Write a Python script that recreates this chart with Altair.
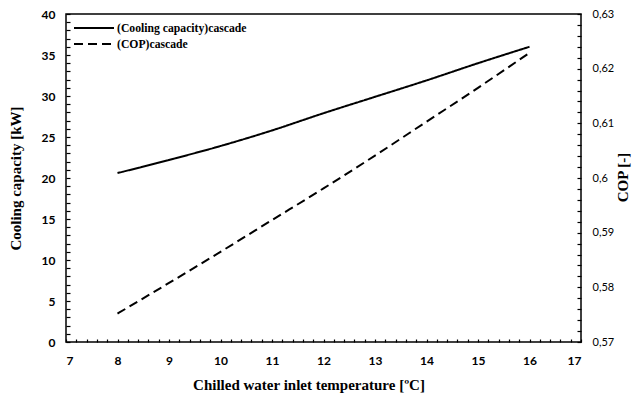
import altair as alt
import pandas as pd

# ---- data ----
temp = [8, 9, 10, 11, 12, 13, 14, 15, 16]
cooling_capacity = [20.6, 22.2, 23.9, 25.8, 27.9, 29.9, 31.9, 34.0, 36.0]
cop = [0.5752, 0.5808, 0.5865, 0.5923, 0.5981, 0.6041, 0.6103, 0.6165, 0.6229]
series_names = ["(Cooling capacity)cascade", "(COP)cascade"]

# ---- tick positions (major + minor) ----
x_ticks = [round(7 + 0.2 * i, 1) for i in range(51)]
y_left_ticks = list(range(0, 41))
y_right_ticks = [round(0.57 + 0.002 * i, 3) for i in range(31)]

df = pd.DataFrame({"temp": temp, "cap": cooling_capacity, "cop": cop})
base = alt.Chart(df)

x_scale = alt.Scale(domain=[7, 17], nice=False, zero=False)
yl_scale = alt.Scale(domain=[0, 40], nice=False)
yr_scale = alt.Scale(domain=[0.57, 0.63], nice=False, zero=False)
dash_scale = alt.Scale(domain=series_names, range=[[1, 0], [9, 5]])

LABEL_FONT = "Lato"
TITLE_FONT = "Liberation Serif"

legend = alt.Legend(
    title=None, orient="none", legendX=7, legendY=6, padding=0,
    symbolType="stroke", symbolSize=1600, symbolStrokeWidth=2,
    symbolStrokeColor="black", labelFont=TITLE_FONT, labelFontWeight="bold",
    labelFontSize=11.7, labelColor="black", labelOffset=2, rowPadding=0,
    clipHeight=16,
)

def tick_style(size):
    return dict(offset=-size, tickSize=size, tickColor="black", tickWidth=1.2,
                domain=False, grid=False, labelOverlap=False)

x_enc = alt.X("temp:Q", scale=x_scale, axis=alt.Axis(
    orient="bottom", values=x_ticks,
    labelExpr="datum.value % 1 == 0 ? format(datum.value, 'd') : ''",
    labelFont=LABEL_FONT, labelFontWeight="bold", labelFontSize=12,
    labelColor="black", labelPadding=13,
    title="Chilled water inlet temperature [ºC]", titleFont=TITLE_FONT,
    titleFontSize=15, titleFontWeight="bold", titleColor="black",
    titleX=242.5, titlePadding=11, **tick_style(3)))

cap_line = base.transform_calculate(series="'(Cooling capacity)cascade'").mark_line(
    color="black", strokeWidth=2, interpolate="monotone"
).encode(
    x=x_enc,
    y=alt.Y("cap:Q", scale=yl_scale, axis=alt.Axis(
        orient="left", values=y_left_ticks,
        labelExpr="datum.value % 5 == 0 ? datum.label : ''",
        labelFont=LABEL_FONT, labelFontWeight="bold",
        labelFontSize=12, labelColor="black", labelPadding=11,
        title="Cooling capacity [kW]", titleFont=TITLE_FONT, titleFontSize=15,
        titleFontWeight="bold", titleColor="black", titlePadding=18,
        **tick_style(4))),
    strokeDash=alt.StrokeDash("series:N", scale=dash_scale, legend=legend),
)

cop_line = base.transform_calculate(series="'(COP)cascade'").mark_line(
    color="black", strokeWidth=2, interpolate="monotone"
).encode(
    x=x_enc,
    y=alt.Y("cop:Q", scale=yr_scale, axis=alt.Axis(
        orient="right", values=y_right_ticks,
        labelExpr="round(datum.value * 1000) % 10 == 0 ? replace(format(datum.value, '.2~f'), '.', ',') : ''",
        labelFont=LABEL_FONT, labelFontSize=11, labelColor="black",
        labelPadding=11, title="COP [-]", titleFont=TITLE_FONT,
        titleFontSize=15, titleFontWeight="bold", titleColor="black",
        titleAngle=270, titleAlign="center", titleBaseline="middle",
        titleX=45, titleY=163, **tick_style(4))),
    strokeDash=alt.StrokeDash("series:N", scale=dash_scale, legend=legend),
)

chart = alt.layer(cap_line, cop_line).resolve_scale(
    y="independent"
).properties(
    width=515, height=328,
    padding={"left": 58, "top": 6, "right": 51, "bottom": 52},
    autosize=alt.AutoSizeParams(type="none"),
).configure_view(
    stroke="black", strokeWidth=1.5
)

chart.save("out.html", embed_options={"renderer": "svg", "actions": False})
